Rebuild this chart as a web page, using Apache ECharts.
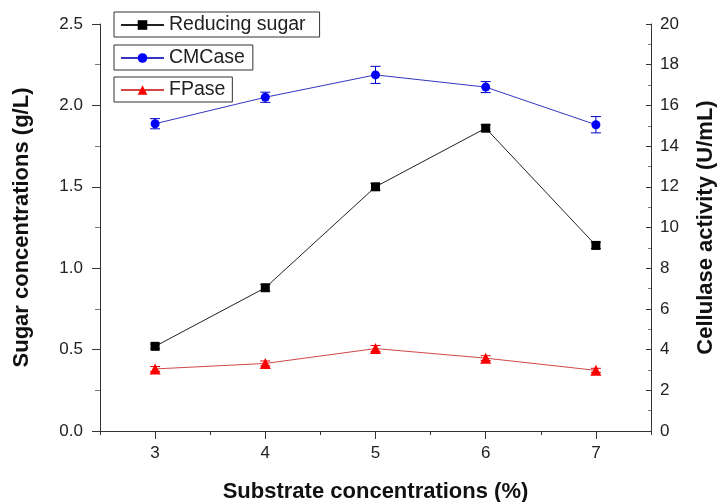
<!DOCTYPE html>
<html>
<head>
<meta charset="utf-8">
<script src="https://cdn.jsdelivr.net/npm/echarts@6/dist/echarts.min.js"></script>
<style>html,body{margin:0;padding:0;background:#fff}#c{width:727px;height:502px}</style>
</head>
<body>
<div id="c"></div>
<script>
// Data
const substrate = [3, 4, 5, 6, 7];
const xTickLabels = [3, 4, 5, 6, 7];
const reducingSugar = [0.52, 0.88, 1.50, 1.86, 1.14];
const reducingSugarErr = [0.015, 0.02, 0.02, 0.02, 0.02];
const cmcase = [15.1, 16.4, 17.5, 16.9, 15.05];
const cmcaseErr = [0.25, 0.25, 0.42, 0.27, 0.4];
const fpase = [3.05, 3.32, 4.05, 3.58, 2.98];
const fpaseErr = [0.12, 0.12, 0.15, 0.12, 0.1];

const font = 'Liberation Sans, Arial, sans-serif';
const axisColor = '#333';

function pairs(xs, ys){ return xs.map((x,i)=>[x, ys[i]]); }
function errData(xs, ys, es){ return xs.map((x,i)=>[x, ys[i]-es[i], ys[i]+es[i]]); }
function errSeries(name, data, yIdx, color){
  return {
    type: 'custom', name: name + ' err', xAxisIndex: 0, yAxisIndex: yIdx, z: 5,
    data: data, silent: true,
    renderItem: function(params, api){
      const x = api.value(0);
      const p1 = api.coord([x, api.value(1)]);
      const p2 = api.coord([x, api.value(2)]);
      const w = 5;
      const st = {stroke: color, lineWidth: 1};
      return {type: 'group', children: [
        {type: 'line', shape: {x1: p1[0], y1: p1[1], x2: p2[0], y2: p2[1]}, style: st},
        {type: 'line', shape: {x1: p1[0]-w, y1: p1[1], x2: p1[0]+w, y2: p1[1]}, style: st},
        {type: 'line', shape: {x1: p2[0]-w, y1: p2[1], x2: p2[0]+w, y2: p2[1]}, style: st}
      ]};
    }
  };
}

const chart = echarts.init(document.getElementById('c'));
function legendFor(name, top, padRight){
  return {
    data: [name], left: 114, top: top, orient: 'horizontal',
    borderColor: '#333', borderWidth: 1, padding: [3, padRight, 2, 6],
    itemWidth: 43, itemHeight: 12, itemGap: 2,
    textStyle: {fontFamily: font, fontSize: 19.5, color: '#222'},
    selectedMode: false
  };
}
chart.setOption({
  animation: false,
  backgroundColor: '#fff',
  grid: {left: 100, right: 76, top: 24, bottom: 71, containLabel: false, outerBoundsMode: 'none'},
  legend: [legendFor('Reducing sugar', 12, 14), legendFor('CMCase', 45, 8), legendFor('FPase', 77, 7)],
  xAxis: [
    {
      type: 'value', min: 2.5, max: 7.5, interval: 0.5,
      name: 'Substrate concentrations (%)', nameLocation: 'middle', nameGap: 50,
      nameTextStyle: {fontFamily: font, fontSize: 22, fontWeight: 'bold', color: '#111'},
      axisLine: {show: true, lineStyle: {color: axisColor, width: 1}},
      axisTick: {show: true, length: 4, inside: false, lineStyle: {color: axisColor}},
      axisLabel: {customValues: xTickLabels, fontFamily: font, fontSize: 17, color: '#222', margin: 14},
      splitLine: {show: false}
    },
    {
      type: 'value', min: 2.5, max: 7.5, position: 'bottom',
      axisLine: {show: false},
      axisTick: {show: true, length: 8, customValues: xTickLabels, lineStyle: {color: axisColor}},
      axisLabel: {show: false},
      splitLine: {show: false}
    }
  ],
  yAxis: [
    {
      type: 'value', min: 0, max: 2.5, interval: 0.5, position: 'left',
      name: 'Sugar concentrations (g/L)', nameLocation: 'middle', nameGap: 67,
      nameTextStyle: {fontFamily: font, fontSize: 22, fontWeight: 'bold', color: '#111'},
      axisLine: {show: true, lineStyle: {color: axisColor}},
      axisTick: {show: true, length: 8, lineStyle: {color: axisColor}},
      minorTick: {show: true, splitNumber: 2, length: 5, lineStyle: {color: '#777'}},
      axisLabel: {fontFamily: font, fontSize: 17, color: '#222', margin: 17, formatter: v => v.toFixed(1)},
      splitLine: {show: false}
    },
    {
      type: 'value', min: 0, max: 20, interval: 2, position: 'right',
      name: 'Cellulase activity (U/mL)', nameLocation: 'middle', nameGap: 44,
      nameTextStyle: {fontFamily: font, fontSize: 22, fontWeight: 'bold', color: '#111'},
      axisLine: {show: true, lineStyle: {color: axisColor}},
      axisTick: {show: true, inside: true, length: 5, lineStyle: {color: axisColor}},
      minorTick: {show: true, splitNumber: 2, length: 3, lineStyle: {color: '#777'}},
      axisLabel: {fontFamily: font, fontSize: 17, color: '#222', margin: 9},
      splitLine: {show: false}
    }
  ],
  series: [
    {
      name: 'Reducing sugar', type: 'line', xAxisIndex: 0, yAxisIndex: 0,
      data: pairs(substrate, reducingSugar), symbol: 'rect', symbolSize: 9,
      itemStyle: {color: '#000'}, lineStyle: {color: '#222', width: 1}, z: 3
    },
    {
      name: 'CMCase', type: 'line', xAxisIndex: 0, yAxisIndex: 1,
      data: pairs(substrate, cmcase), symbol: 'circle', symbolSize: 9,
      itemStyle: {color: '#0000ff'}, lineStyle: {color: '#3535c0', width: 1}, z: 3
    },
    {
      name: 'FPase', type: 'line', xAxisIndex: 0, yAxisIndex: 1,
      data: pairs(substrate, fpase), symbol: 'triangle', symbolSize: 11,
      itemStyle: {color: '#ff0000'}, lineStyle: {color: '#d04848', width: 1}, z: 3
    },
    errSeries('Reducing sugar', errData(substrate, reducingSugar, reducingSugarErr), 0, '#000'),
    errSeries('CMCase', errData(substrate, cmcase, cmcaseErr), 1, '#0000cc'),
    errSeries('FPase', errData(substrate, fpase, fpaseErr), 1, '#ee0000')
  ]
});
</script>
</body>
</html>
